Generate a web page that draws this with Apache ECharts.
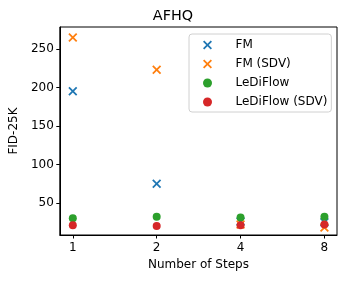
<!DOCTYPE html>
<html><head><meta charset="utf-8">
<script src="https://cdn.jsdelivr.net/npm/echarts@6/dist/echarts.min.js"></script>
<style>html,body{margin:0;padding:0;background:#fff}#c{width:346px;height:282px}</style>
</head><body><div id="c"></div>
<script>
const steps = [1, 2, 4, 8];
const fm = [195, 75, 26, 25];
const fmSdv = [265, 223, 22, 18];
const lediflow = [30, 32, 31, 32];
const lediflowSdv = [21, 20, 21, 22];
const yTicks = [50, 100, 150, 200, 250];
const seriesNames = ['FM', 'FM (SDV)', 'LeDiFlow', 'LeDiFlow (SDV)'];
const colors = ['#1f77b4', '#ff7f0e', '#2ca02c', '#d62728'];

const X = 'path://M0,1.4L1.4,0L5,3.6L8.6,0L10,1.4L6.4,5L10,8.6L8.6,10L5,6.4L1.4,10L0,8.6L3.6,5Z';
const FONT = 'DejaVu Sans';
const pairs = v => steps.map((s, i) => [s, v[i]]);
const mk = (name, vals, color, sym, size) => ({
  name, type: 'scatter', data: pairs(vals), symbol: sym, symbolSize: size,
  itemStyle: { color, opacity: 1 }, z: 2
});

const chart = echarts.init(document.getElementById('c'), null, { renderer: 'canvas' });
chart.setOption({
  animation: false,
  title: { text: 'AFHQ', left: 'center', top: 9, padding: 0, textStyle: { fontFamily: FONT, fontSize: 14.4, fontWeight: 'normal', color: '#000' } },
  grid: { left: 58, right: 9, top: 27, bottom: 47, show: true, borderColor: '#000', borderWidth: 1, backgroundColor: 'transparent' },
  legend: {
    orient: 'vertical', left: 189, top: 34, padding: [5, 4, 4, 14],
    itemWidth: 36, itemHeight: 9, itemGap: 7,
    borderColor: '#d0d0d0', borderWidth: 1, borderRadius: 3, backgroundColor: '#fff',
    textStyle: { fontFamily: FONT, fontSize: 12, color: '#000', padding: [0, 0, 0, 5] },
    data: seriesNames
  },
  xAxis: {
    type: 'log', logBase: 2, min: Math.pow(2, -0.155), max: Math.pow(2, 3.15),
    name: 'Number of Steps', nameLocation: 'middle', nameGap: 24,
    nameTextStyle: { fontFamily: FONT, fontSize: 12, color: '#000' },
    axisLine: { show: true, lineStyle: { color: '#000', width: 1 } },
    axisTick: { show: true, length: 3.5, lineStyle: { color: '#000' }, customValues: steps },
    axisLabel: { fontFamily: FONT, fontSize: 12, color: '#000', margin: 7, customValues: steps, formatter: v => String(Math.round(v)) },
    splitLine: { show: false }, minorTick: { show: false }
  },
  yAxis: {
    type: 'value', min: 8.4, max: 278.6,
    name: 'FID-25K', nameLocation: 'middle', nameGap: 37,
    nameTextStyle: { fontFamily: FONT, fontSize: 12, color: '#000' },
    axisLine: { show: true, lineStyle: { color: '#000', width: 1 } },
    axisTick: { show: true, length: 3.5, lineStyle: { color: '#000' }, customValues: yTicks },
    axisLabel: { fontFamily: FONT, fontSize: 12, color: '#000', margin: 6, customValues: yTicks },
    splitLine: { show: false }
  },
  series: [
    mk(seriesNames[0], fm, colors[0], X, 9),
    mk(seriesNames[1], fmSdv, colors[1], X, 9),
    mk(seriesNames[2], lediflow, colors[2], 'circle', 8),
    mk(seriesNames[3], lediflowSdv, colors[3], 'circle', 8)
  ]
});
</script></body></html>
